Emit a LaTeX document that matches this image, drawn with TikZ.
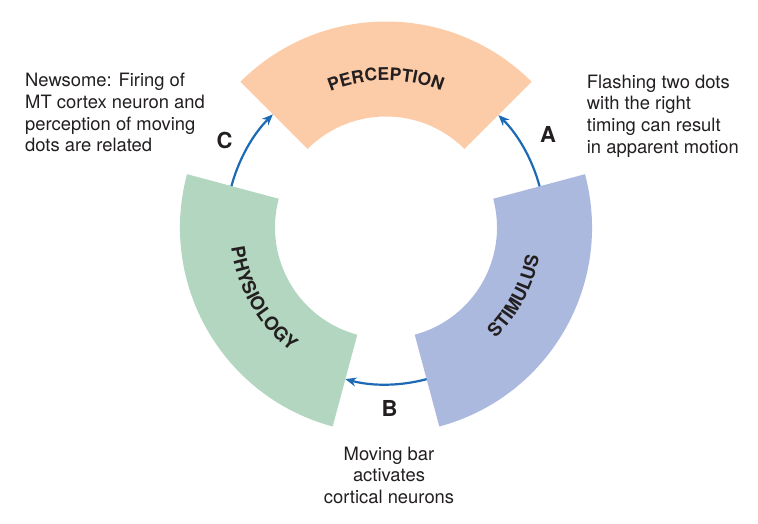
\documentclass[tikz,border=0pt]{standalone}
\usepackage{fontspec}
\setmainfont{TeX Gyre Heros}
\usetikzlibrary{arrows.meta,decorations.text}
\definecolor{percol}{RGB}{252,204,169}
\definecolor{physcol}{RGB}{179,214,192}
\definecolor{stimcol}{RGB}{171,185,222}
\definecolor{arrowcol}{RGB}{30,105,180}
\definecolor{txtcol}{RGB}{35,31,32}
\newcommand{\secfont}{\fontsize{17.5}{17.5}\selectfont\bfseries}
\newcommand{\secfontb}{\fontsize{18.5}{18.5}\selectfont\bfseries}
\begin{document}
\begin{tikzpicture}[x=1pt,y=1pt,
  flow/.style={draw=arrowcol, line width=2.2pt, -{Stealth[length=11pt,width=9pt]}},
  note/.style={font=\fontsize{18.4}{21.7}\selectfont, text=txtcol, inner sep=0pt},
  letter/.style={font=\fontsize{22}{22}\selectfont\bfseries, text=txtcol, inner sep=0pt},
  seclabel/.style={decorate, decoration={text along path, text align=center, text color=txtcol}}]
\useasboundingbox (-386,-296.5) rectangle (372,227.5);

% sectors
\fill[percol] (45:206pt) arc[start angle=45, end angle=135, radius=206pt]
  -- (135:111pt) arc[start angle=135, end angle=45, radius=111pt] -- cycle;
\fill[physcol] (165:206pt) arc[start angle=165, end angle=255, radius=206pt]
  -- (255:111pt) arc[start angle=255, end angle=165, radius=111pt] -- cycle;
\fill[stimcol] (-75:206pt) arc[start angle=-75, end angle=15, radius=206pt]
  -- (15:111pt) arc[start angle=15, end angle=-75, radius=111pt] -- cycle;

% sector labels
\path[seclabel, decoration={text={|\secfont|PERCEPTION}}]
  (135:147pt) arc[start angle=135, end angle=45, radius=147pt];
\path[seclabel, decoration={text={|\secfontb|PHYSIOLOGY}}]
  (165:156pt) arc[start angle=165, end angle=255, radius=156pt];
\path[seclabel, decoration={text={|\secfontb|STIMULUS}}]
  (-73:156pt) arc[start angle=-73, end angle=17, radius=156pt];

% connector end points
\coordinate (As) at (15:159pt);
\coordinate (Ae) at (45:159pt);
\coordinate (Bs) at (-75:157pt);
\coordinate (Be) at (-105:157pt);
\coordinate (Cs) at (165:160pt);
\coordinate (Ce) at (135:160pt);

\draw[flow] (As) arc[start angle=15, end angle=45, radius=159pt];
\draw[flow] (Bs) arc[start angle=-75, end angle=-105, radius=157pt];
\draw[flow] (Cs) arc[start angle=165, end angle=135, radius=160pt];

% letters
\node[letter] (A) at (162,93.5) {A};
\node[letter] (B) at (3.5,-181.2) {B};
\node[letter] (C) at (-161.5,86.8) {C};

% notes (base anchor = baseline of last line)
\node[note, align=left, anchor=base west] (noteC) at (-361,75.7)
  {Newsome: Firing of\\MT cortex neuron and\\perception of moving\\dots are related};
\node[note, align=left, anchor=base west] (noteA) at (200.7,74.1)
  {Flashing two dots\\with the right\\timing can result\\in apparent motion};
\node[note, align=center, anchor=base] (noteB) at (3,-275.9)
  {Moving bar\\activates\\cortical neurons};
\end{tikzpicture}
\end{document}
